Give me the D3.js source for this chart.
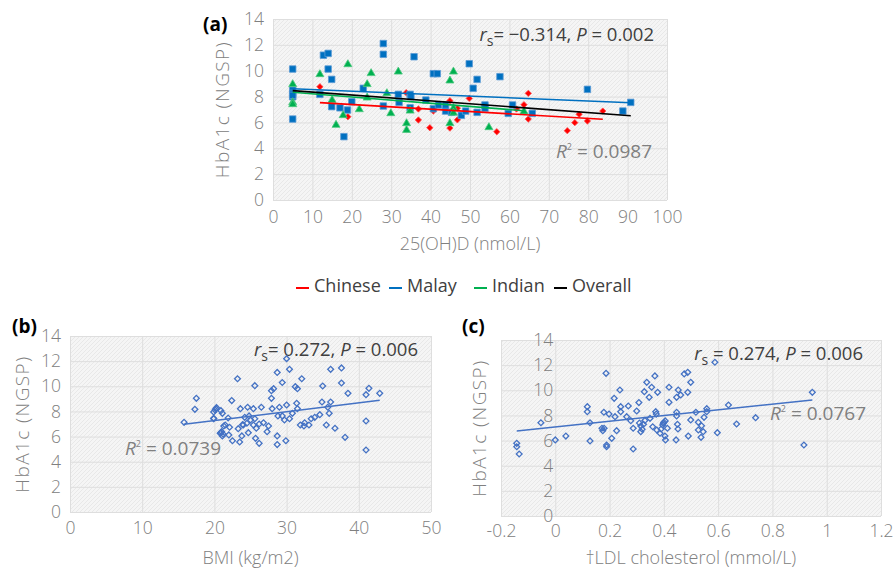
<!DOCTYPE html>
<html>
<head>
<meta charset="utf-8">
<script src="https://cdn.jsdelivr.net/npm/d3@7"></script>
<style>
    body { margin: 0; background: #fff; }
    text { font-family: "Open Sans", "Noto Sans", sans-serif; }
</style>
</head>
<body>
<div id="chart"></div>
<script>
// ---- panel (a): 25(OH)D vs HbA1c, by ethnic group ----
let chineseVitD  = [11.9, 19, 33.8, 36.9, 36.9, 39.8, 40.7, 44.9, 44.9, 46.8, 46.8, 49.8, 56.8, 61.8, 63.7, 64.8, 64.8, 74.7, 76.6, 77.7, 79.8, 83.7];
let chineseHbA1c = [8.76, 6.44, 8.3, 7.04, 6.19, 5.59, 6.88, 7.68, 5.56, 7.1, 6.2, 7.86, 5.28, 7.04, 7.37, 8.25, 6.26, 5.36, 5.98, 6.63, 6.11, 6.88];

let malayVitD  = [5, 5, 5, 5, 5, 5, 12.8, 14, 14, 14.9, 11.9, 14.9, 17, 18.9, 20, 18, 22.9, 28, 28, 28, 31.8, 32, 34.8, 35, 34.8, 35.8, 38.8, 40.7, 41.7, 40.7, 42, 43.8, 43.8, 45.3, 47.8, 48.9, 49.8, 50.8, 51.8, 51.8, 53.8, 53.8, 57.6, 59.7, 60.8, 65.8, 79.8, 88.8, 90.8];
let malayHbA1c = [10.13, 8.5, 8.25, 7.99, 8.1, 6.26, 11.2, 11.34, 10.13, 9.33, 8.17, 7.22, 7.13, 6.96, 7.6, 4.9, 8.64, 12.1, 11.27, 7.27, 8.17, 7.55, 8.17, 7.99, 7.13, 11.08, 7.73, 9.77, 9.77, 7.06, 7.35, 6.88, 7.35, 6.78, 6.55, 6.88, 10.54, 8.64, 9.33, 6.78, 7.35, 7.1, 9.54, 6.7, 7.35, 6.7, 8.56, 6.88, 7.55];

let indianVitD  = [5, 5, 5, 11.9, 19, 24.9, 23.9, 23.9, 15, 21.9, 17.8, 16, 28.9, 31.8, 29.9, 33.9, 33.9, 34.8, 44.9, 45.8, 45.8, 45.8, 44.9, 54.8, 63.7];
let indianHbA1c = [8.95, 7.55, 7.4, 9.72, 10.49, 9.8, 8.95, 7.91, 7.73, 7.01, 6.55, 5.8, 8.25, 9.92, 6.7, 5.93, 5.41, 6.9, 9.23, 9.92, 7.1, 6.74, 5.93, 5.62, 6.84];

// linear trend lines: [x start, x end], [y start, y end]
let trendNames = ["Chinese", "Malay", "Indian", "Overall"];
let trendColors = ["#ff0000", "#0070c0", "#00b050", "#000000"];
let trendX = [[11.9, 83.7], [5, 90.8], [5, 63.7], [5, 90.8]];
let trendY = [[7.53, 6.24], [8.6, 7.52], [8.33, 6.9], [8.46, 6.52]];

// ---- panel (b): BMI vs HbA1c ----
let bmi = [15.8, 17.5, 17.3, 19.9, 20.1, 20.3, 20.2, 19.9, 20.9, 21.1, 19.9, 21.9, 20.8, 21.0, 20.9, 21.2, 21.1, 21.5, 21.3, 22.1, 22.0, 22.5, 23.5, 22.4, 23.2, 23.6, 24.6, 25.4, 24.2, 24.8, 25.0, 25.6, 24.5, 25.4, 24.0, 23.3, 23.8, 23.9, 24.7, 25.7, 26.2, 25.8, 26.2, 26.8, 27.5, 27.3, 25.6, 26.5, 28.0, 27.9, 27.9, 28.2, 28.7, 29.4, 30.0, 30.4, 28.7, 28.7, 29.9, 29.0, 30.0, 28.8, 29.4, 29.7, 30.4, 30.8, 31.5, 31.4, 31.2, 31.5, 32.1, 31.9, 32.4, 33.1, 32.5, 33.4, 33.9, 34.6, 35.9, 35.7, 34.9, 36.1, 35.0, 36.1, 37.6, 37.6, 38.5, 35.5, 36.7, 38.1, 41.0, 41.4, 42.9, 41.0, 41.0];
let bmiHbA1c = [7.13, 9.04, 8.17, 7.45, 8.11, 8.3, 8.22, 7.96, 8.06, 7.85, 7.42, 7.48, 6.26, 6.39, 6.31, 6.2, 6.05, 6.92, 6.84, 6.74, 6.13, 5.67, 5.57, 8.86, 10.6, 8.22, 8.33, 8.22, 7.53, 7.64, 7.32, 7.42, 7.06, 6.92, 6.92, 6.63, 6.05, 6.95, 6.31, 5.86, 5.46, 6.66, 7.0, 7.1, 6.84, 6.39, 10.05, 8.33, 8.22, 9.04, 9.65, 9.81, 11.1, 10.3, 12.2, 11.35, 6.05, 5.36, 5.67, 8.33, 8.51, 7.64, 7.64, 7.32, 7.42, 7.85, 8.22, 8.65, 9.97, 9.81, 10.6, 6.92, 6.84, 6.92, 7.1, 7.42, 7.53, 7.74, 7.85, 8.33, 8.75, 8.75, 10.02, 11.35, 11.46, 10.26, 9.44, 6.92, 6.66, 5.94, 9.33, 9.84, 9.44, 7.24, 4.93];
let bmiTrendX = [15.8, 42.9];
let bmiTrendY = [6.98, 8.88];

// ---- panel (c): change in LDL cholesterol vs HbA1c ----
let ldl = [-0.142, -0.142, -0.133, -0.053, 0.0, 0.039, 0.118, 0.118, 0.128, 0.128, 0.187, 0.179, 0.172, 0.175, 0.18, 0.189, 0.189, 0.198, 0.208, 0.217, 0.226, 0.22, 0.238, 0.241, 0.241, 0.269, 0.263, 0.278, 0.287, 0.287, 0.3, 0.31, 0.315, 0.32, 0.315, 0.325, 0.33, 0.308, 0.328, 0.337, 0.346, 0.349, 0.355, 0.359, 0.367, 0.37, 0.372, 0.377, 0.374, 0.386, 0.39, 0.398, 0.405, 0.413, 0.404, 0.406, 0.419, 0.419, 0.447, 0.45, 0.452, 0.445, 0.453, 0.588, 0.475, 0.488, 0.499, 0.462, 0.447, 0.488, 0.638, 0.558, 0.558, 0.518, 0.447, 0.548, 0.499, 0.527, 0.539, 0.527, 0.545, 0.537, 0.49, 0.597, 0.668, 0.738, 0.947, 0.916, 0.4, 0.396];
let ldlHbA1c = [5.78, 5.51, 4.93, 7.42, 6.05, 6.36, 8.7, 8.3, 7.42, 5.97, 11.35, 8.25, 6.98, 6.79, 6.98, 5.65, 5.51, 8.11, 6.18, 9.36, 6.79, 7.9, 10.02, 8.7, 8.3, 8.75, 7.9, 7.58, 6.98, 5.33, 8.35, 7.4, 7.16, 6.9, 6.71, 7.3, 7.6, 9.02, 9.89, 10.63, 9.44, 7.77, 10.24, 7.1, 11.14, 8.3, 8.11, 9.84, 6.84, 6.58, 6.92, 7.37, 7.56, 6.98, 6.36, 6.05, 10.24, 9.04, 7.96, 7.3, 6.92, 6.05, 10.02, 12.23, 11.3, 11.43, 10.63, 9.63, 9.44, 9.84, 8.83, 8.54, 8.3, 8.25, 8.25, 7.85, 7.64, 7.45, 7.18, 6.84, 6.71, 6.26, 6.36, 6.63, 7.32, 7.82, 9.84, 5.65, 7.45, 7.24];
let ldlTrendX = [-0.142, 0.947];
let ldlTrendY = [6.76, 9.23];

// ticks
let hba1cTicks = [0, 2, 4, 6, 8, 10, 12, 14];
let vitDTicks = [0, 10, 20, 30, 40, 50, 60, 70, 80, 90, 100];
let bmiTicks = [0, 10, 20, 30, 40, 50];
let ldlTicks = [-0.2, 0, 0.2, 0.4, 0.6, 0.8, 1, 1.2];

let zip = (xs, ys) => xs.map((v, i) => ({x: v, y: ys[i]}));

let svg = d3.select("#chart")
    .append("svg")
    .attr("width", 893)
    .attr("height", 569)
    .style("background", "#fff");

// hatched plot-area fill like the Excel style
let pat = svg.append("defs").append("pattern")
    .attr("id", "hatch")
    .attr("width", 4)
    .attr("height", 4)
    .attr("patternUnits", "userSpaceOnUse");
pat.append("rect").attr("width", 4).attr("height", 4).attr("fill", "#f5f5f5");
pat.append("path").attr("d", "M-1,1 L1,-1 M0,4 L4,0 M3,5 L5,3").attr("stroke", "#e8e8e8").attr("stroke-width", 1);

// small diamond = rotated square
let diamond = d3.symbol().type(d3.symbolSquare);

function drawPanel(cfg) {
    let g = svg.append("g");
    let x = d3.scaleLinear().domain(cfg.xDomain).range([cfg.left, cfg.right]);
    let y = d3.scaleLinear().domain([0, 14]).range([cfg.bottom, cfg.top]);

    g.append("rect")
        .attr("x", cfg.left)
        .attr("y", cfg.top)
        .attr("width", cfg.right - cfg.left)
        .attr("height", cfg.bottom - cfg.top)
        .attr("fill", "url(#hatch)");

    // gridlines
    let gx = g.append("g")
        .attr("transform", `translate(0, ${cfg.bottom})`)
        .call(d3.axisBottom(x).tickValues(cfg.xTicks).tickSize(-(cfg.bottom - cfg.top)).tickFormat(""));
    let gy = g.append("g")
        .attr("transform", `translate(${cfg.left}, 0)`)
        .call(d3.axisLeft(y).tickValues(hba1cTicks).tickSize(-(cfg.right - cfg.left)).tickFormat(""));
    [gx, gy].forEach(function (a) {
        a.select(".domain").remove();
        a.selectAll("line").attr("stroke", "#dedede").attr("stroke-width", 1);
    });

    // tick labels
    let lx = g.append("g")
        .attr("transform", `translate(0, ${cfg.bottom})`)
        .call(d3.axisBottom(x).tickValues(cfg.xTicks).tickSize(0).tickPadding(cfg.xPad).tickFormat(d => String(d)));
    let ly = g.append("g")
        .attr("transform", `translate(${cfg.yAxisAt !== undefined ? x(cfg.yAxisAt) : cfg.left}, 0)`)
        .call(d3.axisLeft(y).tickValues(hba1cTicks).tickSize(0).tickPadding(cfg.yPad));
    [lx, ly].forEach(function (a) {
        a.select(".domain").remove();
        a.selectAll("text")
            .attr("fill", "#808080")
            .style("font-size", "17.5px")
            .style("font-weight", 300)
            .style("font-family", "'Open Sans', sans-serif");
    });

    // axis titles
    g.append("text")
        .attr("x", (cfg.left + cfg.right) / 2)
        .attr("y", cfg.xTitleY)
        .attr("text-anchor", "middle")
        .attr("fill", "#808080")
        .style("font-size", "18px")
        .style("font-weight", 300)
        .text(cfg.xTitle);
    g.append("text")
        .attr("transform", `translate(${cfg.yTitleX}, ${(cfg.top + cfg.bottom) / 2}) rotate(-90)`)
        .attr("text-anchor", "middle")
        .attr("dominant-baseline", "central")
        .attr("fill", "#808080")
        .style("font-size", "19px")
        .style("font-weight", 300)
        .style("letter-spacing", "1.4px")
        .text("HbA1c (NGSP)");

    // panel letter
    g.append("text")
        .attr("x", cfg.letterX)
        .attr("y", cfg.letterY)
        .attr("fill", "#000")
        .style("font-size", "19px")
        .style("font-weight", "bold")
        .text(cfg.letter);

    // r_s annotation
    let rs = g.append("text")
        .attr("x", cfg.rsX)
        .attr("y", cfg.rsY)
        .attr("text-anchor", "end")
        .attr("fill", "#404040")
        .style("font-size", "18.5px");
    rs.append("tspan").style("font-style", "italic").text("r");
    rs.append("tspan").attr("dy", 5).style("font-size", "14px").text("s");
    rs.append("tspan").attr("dy", -5).text(cfg.rsText);
    rs.append("tspan").style("font-style", "italic").text("P");
    rs.append("tspan").text(cfg.pText);

    // R squared annotation
    let r2 = g.append("text")
        .attr("x", cfg.r2X)
        .attr("y", cfg.r2Y)
        .attr("text-anchor", "end")
        .attr("fill", "#808080")
        .style("font-size", "19px");
    r2.append("tspan").style("font-style", "italic").text("R");
    r2.append("tspan").attr("dy", -8).style("font-size", "9px").text("2");
    r2.append("tspan").attr("dy", 8).text(cfg.r2Text);

    return {g: g, x: x, y: y};
}

// ---- (a) ----
let pa = drawPanel({
    left: 273, right: 667, top: 19, bottom: 200,
    xDomain: [0, 100], xTicks: vitDTicks, xPad: 11, yPad: 9,
    xTitle: "25(OH)D (nmol/L)", xTitleY: 250, yTitleX: 222,
    letter: "(a)", letterX: 203, letterY: 31,
    rsX: 654, rsY: 41, rsText: "= \u22120.314, ", pText: " = 0.002",
    r2X: 652, r2Y: 158, r2Text: " = 0.0987"
});

let groups = [
    {data: zip(chineseVitD, chineseHbA1c), sym: diamond.size(20), rot: 45, color: "#ff0000", edge: "#ff5050"},
    {data: zip(malayVitD, malayHbA1c), sym: d3.symbol().type(d3.symbolSquare).size(42), rot: 0, color: "#0070c0", edge: "#5b9bd5"},
    {data: zip(indianVitD, indianHbA1c), sym: d3.symbol().type(d3.symbolTriangle).size(28), rot: 0, color: "#00b050", edge: "#4cc97f"}
];

groups.forEach(function (grp) {
    let path = grp.sym();
    pa.g.append("g")
        .selectAll("path")
        .data(grp.data)
        .join("path")
        .attr("transform", d => `translate(${pa.x(d.x)}, ${pa.y(d.y)}) rotate(${grp.rot})`)
        .attr("d", path)
        .attr("fill", grp.color)
        .attr("stroke", grp.edge)
        .attr("stroke-width", 0.8);
});

pa.g.append("g")
    .selectAll("line")
    .data(trendNames)
    .join("line")
    .attr("x1", (d, i) => pa.x(trendX[i][0]))
    .attr("x2", (d, i) => pa.x(trendX[i][1]))
    .attr("y1", (d, i) => pa.y(trendY[i][0]))
    .attr("y2", (d, i) => pa.y(trendY[i][1]))
    .attr("stroke", (d, i) => trendColors[i])
    .attr("stroke-width", 1.6);

// legend
let legendX = [296, 389, 474, 554];
let legend = svg.append("g")
    .selectAll("g")
    .data(trendNames)
    .join("g")
    .attr("transform", (d, i) => `translate(${legendX[i]}, 288)`);
legend.append("line")
    .attr("x1", 0).attr("x2", 13)
    .attr("stroke", (d, i) => trendColors[i])
    .attr("stroke-width", 2);
legend.append("text")
    .attr("x", 18)
    .attr("y", 4)
    .attr("fill", "#404040")
    .style("font-size", "18px")
    .text(d => d);

// ---- (b) ----
let pb = drawPanel({
    left: 70, right: 431, top: 336, bottom: 512,
    xDomain: [0, 50], xTicks: bmiTicks, xPad: 10, yPad: 9,
    xTitle: "BMI (kg/m2)", xTitleY: 564, yTitleX: 22,
    letter: "(b)", letterX: 12, letterY: 333,
    rsX: 418, rsY: 356, rsText: "= 0.272, ", pText: " = 0.006",
    r2X: 221, r2Y: 455, r2Text: " = 0.0739"
});

// ---- (c) ----
let pc = drawPanel({
    left: 501, right: 881, top: 340, bottom: 516,
    xDomain: [-0.2, 1.2], xTicks: ldlTicks, xPad: 9, yPad: 2, yAxisAt: 0,
    xTitle: "\u2020LDL cholesterol (mmol/L)", xTitleY: 564, yTitleX: 479,
    letter: "(c)", letterX: 462, letterY: 333,
    rsX: 863, rsY: 360, rsText: " = 0.274, ", pText: " = 0.006",
    r2X: 866, r2Y: 420, r2Text: " = 0.0767"
});

[[pb, zip(bmi, bmiHbA1c), bmiTrendX, bmiTrendY], [pc, zip(ldl, ldlHbA1c), ldlTrendX, ldlTrendY]].forEach(function (p) {
    let panel = p[0];
    panel.g.append("g")
        .selectAll("path")
        .data(p[1])
        .join("path")
        .attr("transform", d => `translate(${panel.x(d.x)}, ${panel.y(d.y)}) rotate(45)`)
        .attr("d", d3.symbol().type(d3.symbolSquare).size(17))
        .attr("fill", "none")
        .attr("stroke", "#4472c4")
        .attr("stroke-width", 1.3);
    panel.g.append("line")
        .attr("x1", panel.x(p[2][0]))
        .attr("x2", panel.x(p[2][1]))
        .attr("y1", panel.y(p[3][0]))
        .attr("y2", panel.y(p[3][1]))
        .attr("stroke", "#4472c4")
        .attr("stroke-width", 1.5);
});
</script>
</body>
</html>
